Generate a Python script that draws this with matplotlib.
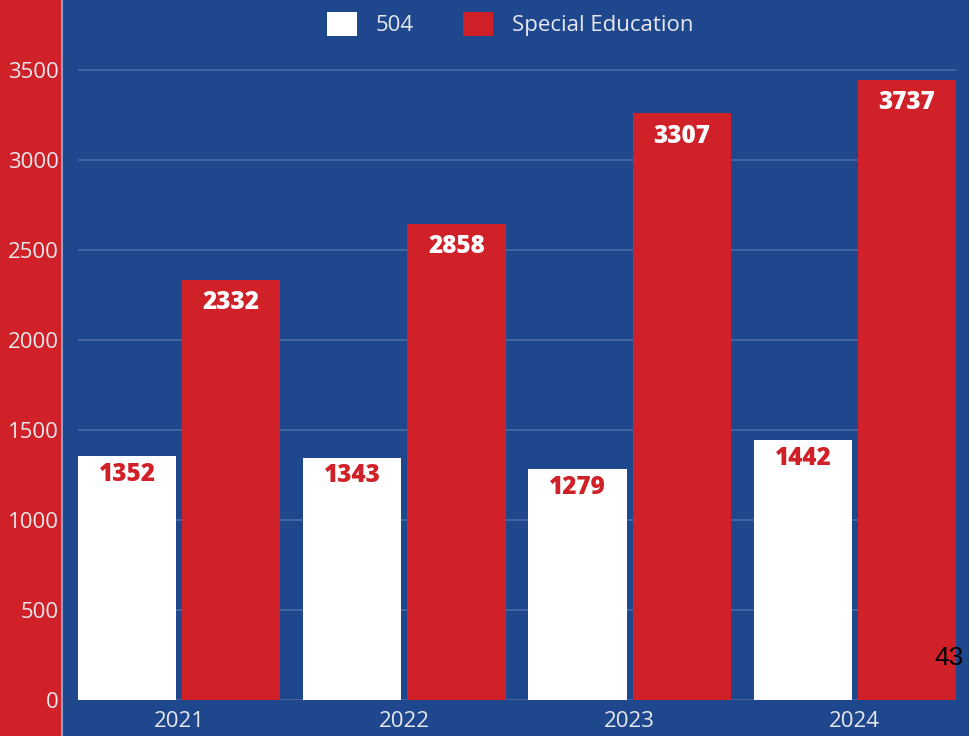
import matplotlib.pyplot as plt
from matplotlib.patches import Rectangle
from matplotlib.lines import Line2D

# data
years = ['2021', '2022', '2023', '2024']
students_504 = [1352, 1343, 1279, 1442]
sped_labels = [2332, 2858, 3307, 3737]
# red bars as drawn in the picture (not quite matching their labels)
sped_heights = [2332, 2644, 3259, 3444]
y_ticks = [0, 500, 1000, 1500, 2000, 2500, 3000, 3500]

blue = '#1f478e'
red = '#d02129'
light = '#e8e8ee'

plt.rcParams['font.family'] = ['Open Sans', 'DejaVu Sans']
plt.rcParams['font.weight'] = 'medium'

fig = plt.figure(figsize=(9.7, 7.36), dpi=100)
fig.patch.set_facecolor(blue)

# red strip behind the y tick labels
fig.patches.append(Rectangle((0, 0), 62 / 970, 1, transform=fig.transFigure,
                             facecolor=red, edgecolor='none', zorder=-2))
fig.lines.append(Line2D([62 / 970, 62 / 970], [0, 1], transform=fig.transFigure,
                        color='#8e9cc6', linewidth=1.5, zorder=-1))

ax = fig.add_axes([78 / 970, 36.5 / 736, 878 / 970, 699.5 / 736])
ax.set_facecolor(blue)

x = list(range(len(years)))
off = 0.231
w = 0.436
b1 = ax.bar([i - off for i in x], students_504, width=w, color='white', label='504', zorder=3)
b2 = ax.bar([i + off for i in x], sped_heights, width=w, color=red,
            label='Special Education', zorder=3)

for rect, val in zip(b1, students_504):
    ax.annotate(str(val), (rect.get_x() + rect.get_width() / 2, rect.get_height()),
                xytext=(0, -13), textcoords='offset points', ha='center', va='center',
                color=red, fontsize=17.5, fontweight='heavy', zorder=4)
for rect, val in zip(b2, sped_labels):
    ax.annotate(str(val), (rect.get_x() + rect.get_width() / 2, rect.get_height()),
                xytext=(0, -16.5), textcoords='offset points', ha='center', va='center',
                color='white', fontsize=17.5, fontweight='heavy', zorder=4)

ax.set_xlim(-off - w / 2, len(years) - 1 + off + w / 2)
ax.set_ylim(0, 3889)
ax.set_xticks(x)
ax.set_xticklabels(years)
ax.set_yticks(y_ticks)
ax.tick_params(axis='both', length=0, labelsize=16, labelcolor=light)
ax.tick_params(axis='y', pad=14)
ax.tick_params(axis='x', pad=8)
ax.grid(axis='y', color='#4c6aa6', linewidth=1.2)
ax.set_axisbelow(True)
for s in ax.spines.values():
    s.set_visible(False)

fig.legend(handles=[b1, b2], loc='center', bbox_to_anchor=(510 / 970, 1 - 24 / 736),
           ncol=2, frameon=False, fontsize=16, labelcolor=light,
           handlelength=1.35, handleheight=1.35, handletextpad=0.85, columnspacing=2.2)

# stray page number from the source document
fig.text(949 / 970, 1 - 658 / 736, '43', family='Liberation Sans', fontsize=19,
         fontweight='normal', color='black', ha='center', va='center')

fig.savefig('out.png', dpi=100, facecolor=fig.get_facecolor())
